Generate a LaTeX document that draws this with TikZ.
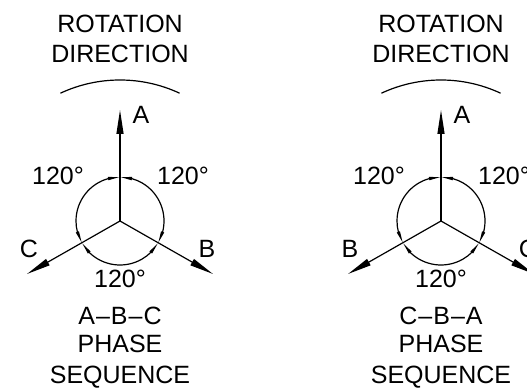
\documentclass[tikz,border=0pt]{standalone}
\usepackage{fontspec}
\setmainfont{Liberation Sans}
\usetikzlibrary{arrows.meta,bending}

\begin{document}
\begin{tikzpicture}[x=1pt,y=1pt,line width=1.2pt,
  phase/.style={-{Triangle[length=24pt,width=7pt]}},
  dimarc/.style={{Triangle[length=12pt,width=3pt,flex]}-{Triangle[length=12pt,width=3pt,flex]}},
  lbl/.style={font=\fontsize{25}{30}\selectfont,inner sep=0pt,anchor=base}]
\useasboundingbox (0,0) rectangle (527,388);
\clip (0,0) rectangle (527,388);
\foreach \i/\sx/\lft/\rgt/\seq in {1/0/C/B/{A\kern1pt--\kern1pt B\kern1pt--\kern1pt C},2/321/B/C/{C\kern1pt--\kern1pt B\kern1pt--\kern1pt A}}{
\begin{scope}[shift={(\sx,0)}]
% phase vectors
\coordinate (o\i) at (120,167);
\coordinate (a\i) at (120,278);
\coordinate (l\i) at (27,114);
\coordinate (r\i) at (213,114);
\draw[phase](o\i)--(a\i);
\draw[phase](o\i)--(l\i);
\draw[phase](o\i)--(r\i);
% 120 degree arcs
\draw[dimarc](o\i)++(90:44)arc[start angle=90,end angle=210,radius=44];
\draw[dimarc](o\i)++(210:44)arc[start angle=210,end angle=330,radius=44];
\draw[dimarc](o\i)++(330:44)arc[start angle=330,end angle=450,radius=44];
% rotation
\draw(o\i)++(115:141)arc[start angle=115,end angle=65,radius=141];
\node[lbl](rot\i) at (120,355){ROTATION};
\node[lbl](dir\i) at (120,325){DIRECTION};
\node[lbl](na\i) at (141,264){A};
\node[lbl](nl\i) at (29,130){\lft};
\node[lbl](nr\i) at (207,130){\rgt};
\node[lbl](dl\i) at (58,203){120°};
\node[lbl](dr\i) at (183,203){120°};
\node[lbl](db\i) at (120,100){120°};
\node[lbl](seq\i) at (120,63){\seq};
\node[lbl](ph\i) at (120,35){PHASE};
\node[lbl](sq\i) at (120,5){SEQUENCE};
\end{scope}
}
\end{tikzpicture}
\end{document}
